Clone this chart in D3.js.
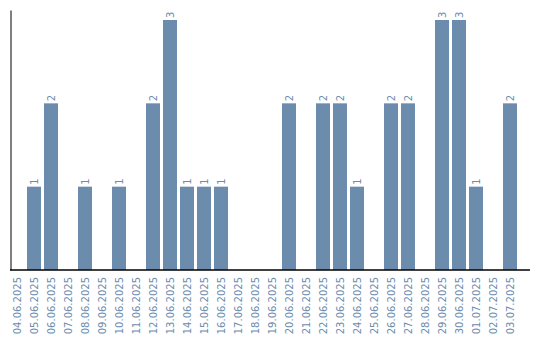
<!DOCTYPE html>
<html>
<head>
<meta charset="utf-8">
<script src="https://cdn.jsdelivr.net/npm/d3@7"></script>
<style>
  body { margin: 0; background: #fff; }
  text { font-family: "DejaVu Sans", sans-serif; font-size: 10px; fill: #6a8caf; }
</style>
</head>
<body>
<script>
// DATA
const dates = ["04.06.2025","05.06.2025","06.06.2025","07.06.2025","08.06.2025","09.06.2025",
  "10.06.2025","11.06.2025","12.06.2025","13.06.2025","14.06.2025","15.06.2025","16.06.2025",
  "17.06.2025","18.06.2025","19.06.2025","20.06.2025","21.06.2025","22.06.2025","23.06.2025",
  "24.06.2025","25.06.2025","26.06.2025","27.06.2025","28.06.2025","29.06.2025","30.06.2025",
  "01.07.2025","02.07.2025","03.07.2025"];
const counts = [0,1,2,0,1,0,1,0,2,3,1,1,1,0,0,0,2,0,2,2,1,0,2,2,0,3,3,1,0,2];

const WIDTH = 540;
const HEIGHT = 340;
const BASE = 270;

const svg = d3.select("body").append("svg").attr("width", WIDTH).attr("height", HEIGHT);

// SCALES
const x = d3.scaleBand().domain(dates).range([10, 517]).paddingInner(3 / 17).paddingOuter(0);
const y = d3.scaleLinear().domain([0, 3.12]).range([BASE, 10]);

const data = dates.map((d, i) => ({ date: d, value: counts[i] }));

// BARS
svg.append("g")
  .selectAll("rect")
  .data(data.filter(d => d.value > 0))
  .enter()
  .append("rect")
  .attr("x", d => x(d.date))
  .attr("y", d => y(d.value))
  .attr("width", x.bandwidth())
  .attr("height", d => BASE - y(d.value))
  .attr("fill", "#6b8cad");

// VALUE LABELS
svg.append("g")
  .selectAll("text")
  .data(data.filter(d => d.value > 0))
  .enter()
  .append("text")
  .attr("transform", d => `translate(${x(d.date) + x.bandwidth() / 2 + 3.5},${y(d.value) - 2}) rotate(-90)`)
  .attr("text-anchor", "start")
  .text(d => d.value);

// AXES
const xAxis = svg.append("g")
  .attr("transform", `translate(0,${BASE})`)
  .call(d3.axisBottom(x).tickSize(0).tickPadding(0));
xAxis.select(".domain").attr("d", "M10,0H530").attr("stroke", "#000").attr("stroke-width", 1.5);
xAxis.selectAll("text")
  .attr("transform", "rotate(-90)")
  .attr("text-anchor", "end")
  .attr("x", -7)
  .attr("y", 0)
  .attr("dy", "0.35em")
  .attr("fill", "#6a8caf")
  .style("font-size", "10px")
  .style("font-family", "'DejaVu Sans', sans-serif");

const yAxis = svg.append("g")
  .attr("transform", "translate(10.5,0)")
  .call(d3.axisLeft(y).ticks(0).tickSize(0));
yAxis.selectAll(".tick").remove();
yAxis.select(".domain").attr("stroke", "#000").attr("stroke-width", 1);
</script>
</body>
</html>
